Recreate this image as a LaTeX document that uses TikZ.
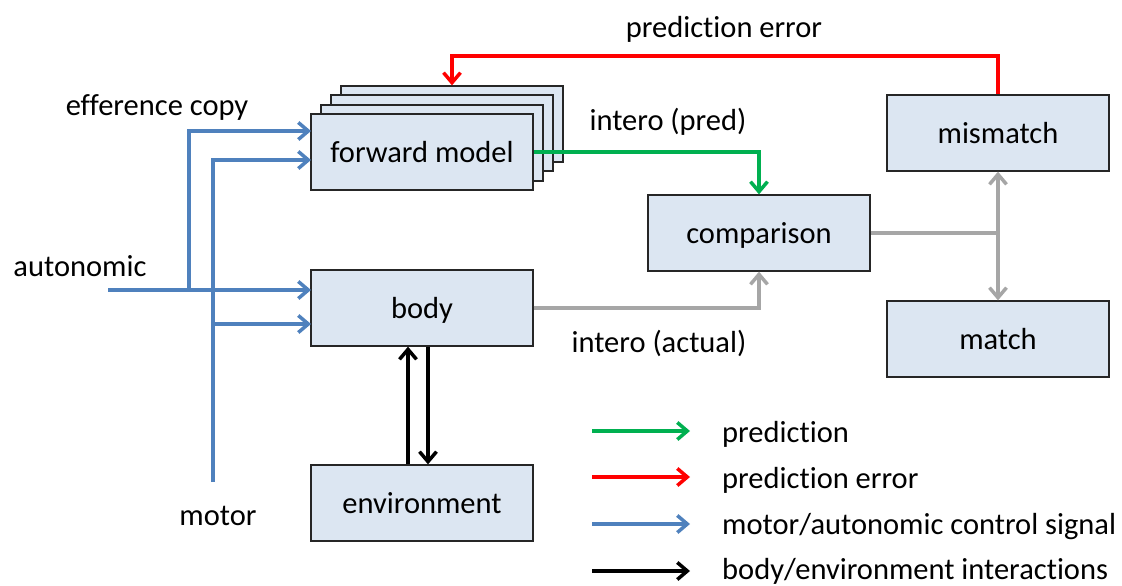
\documentclass[tikz,border=0pt]{standalone}
\usepackage{fontspec}
\setmainfont{Carlito}[Ligatures=NoCommon]
\usetikzlibrary{arrows.meta}
\definecolor{boxfill}{HTML}{DCE6F2}
\definecolor{ablue}{HTML}{4F81BD}
\definecolor{agreen}{HTML}{00B050}
\definecolor{ared}{HTML}{FF0000}
\definecolor{agray}{HTML}{A6A6A6}
\tikzset{
  box/.style={draw=black!85, line width=1.3pt, fill=boxfill, minimum width=222pt, minimum height=76pt, inner sep=0pt, text height=24pt, text depth=4pt, font=\fontsize{30.5}{34}\selectfont},
  lbl/.style={inner sep=0pt, text height=24pt, text depth=4pt, font=\fontsize{30.5}{34}\selectfont},
  tip/.style={-{Straight Barb[length=10pt,width=17pt,line width=3.5pt]}},
  conn/.style={line width=3.5pt},
}
\begin{document}
\begin{tikzpicture}[x=1pt,y=-1pt]
\useasboundingbox (0,0) rectangle (1122,586);
% forward model stack
\node[box] (fm3) at (452,124) {};
\node[box] (fm2) at (442,133) {};
\node[box] (fm1) at (432,143) {};
\node[box] (fm) at (422,152) {forward model};
\node[box] (body) at (422,308) {body};
\node[box] (env) at (422,503) {environment};
\node[box] (cmp) at (759,233) {comparison};
\node[box] (mis) at (998,133) {mismatch};
\node[box] (mat) at (998,339) {match};
% labels
\node[lbl] (lpe) at (724,28) {prediction error};
\node[lbl] (lec) at (157,105) {efference copy};
\node[lbl] (laut) at (80,266) {autonomic};
\node[lbl] (lmot) at (218,515) {motor};
\node[lbl] (lip) at (668,120) {intero (pred)};
\node[lbl] (lia) at (659,342) {intero (actual)};
% green prediction
\draw[conn, agreen, tip] (fm.east) -| (cmp.north);
% gray actual
\draw[conn, agray, tip] (body.east) -| (cmp.south);
% gray comparison outputs
\coordinate (jn) at (998,233);
\draw[conn, agray] (cmp.east) -- (jn);
\draw[conn, agray, tip] (jn) -- (mis.south);
\draw[conn, agray, tip] (jn) -- (mat.north);
% red error
\coordinate (rtop) at (998,56);
\draw[conn, ared, tip] (mis.north) -- (rtop) -| (fm3.north);
% blue signals
\coordinate (aut) at (108,290);
\coordinate (ja) at (189,290);
\coordinate (mot) at (213,482);
\coordinate (jm) at (213,324);
\coordinate (fmA) at (311,131);
\coordinate (fmB) at (311,160);
\coordinate (bdA) at (311,290);
\coordinate (bdB) at (311,324);
\draw[conn, ablue, tip] (aut) -- (bdA);
\draw[conn, ablue, tip] (ja) |- (fmA);
\draw[conn, ablue, tip] (mot) |- (fmB);
\draw[conn, ablue, tip] (jm) -- (bdB);
% black interactions
\coordinate (xu) at (408,0);
\coordinate (xd) at (428,0);
\draw[conn, black, tip] (env.north -| xu) -- (body.south -| xu);
\draw[conn, black, tip] (body.south -| xd) -- (env.north -| xd);
% legend
\coordinate (g1a) at (592,431); \coordinate (g1b) at (690,431);
\coordinate (g2a) at (592,477); \coordinate (g2b) at (690,477);
\coordinate (g3a) at (592,524); \coordinate (g3b) at (690,524);
\coordinate (g4a) at (592,571); \coordinate (g4b) at (690,571);
\draw[conn, agreen, tip] (g1a) -- (g1b);
\draw[conn, ared, tip] (g2a) -- (g2b);
\draw[conn, ablue, tip] (g3a) -- (g3b);
\draw[conn, black, tip] (g4a) -- (g4b);
\node[lbl, anchor=west] (k1) at (722,432) {prediction};
\node[lbl, anchor=west] (k2) at (722,478) {prediction error};
\node[lbl, anchor=west] (k3) at (722,524) {motor/autonomic control signal};
\node[lbl, anchor=west] (k4) at (722,569) {body/environment interactions};
\end{tikzpicture}
\end{document}
